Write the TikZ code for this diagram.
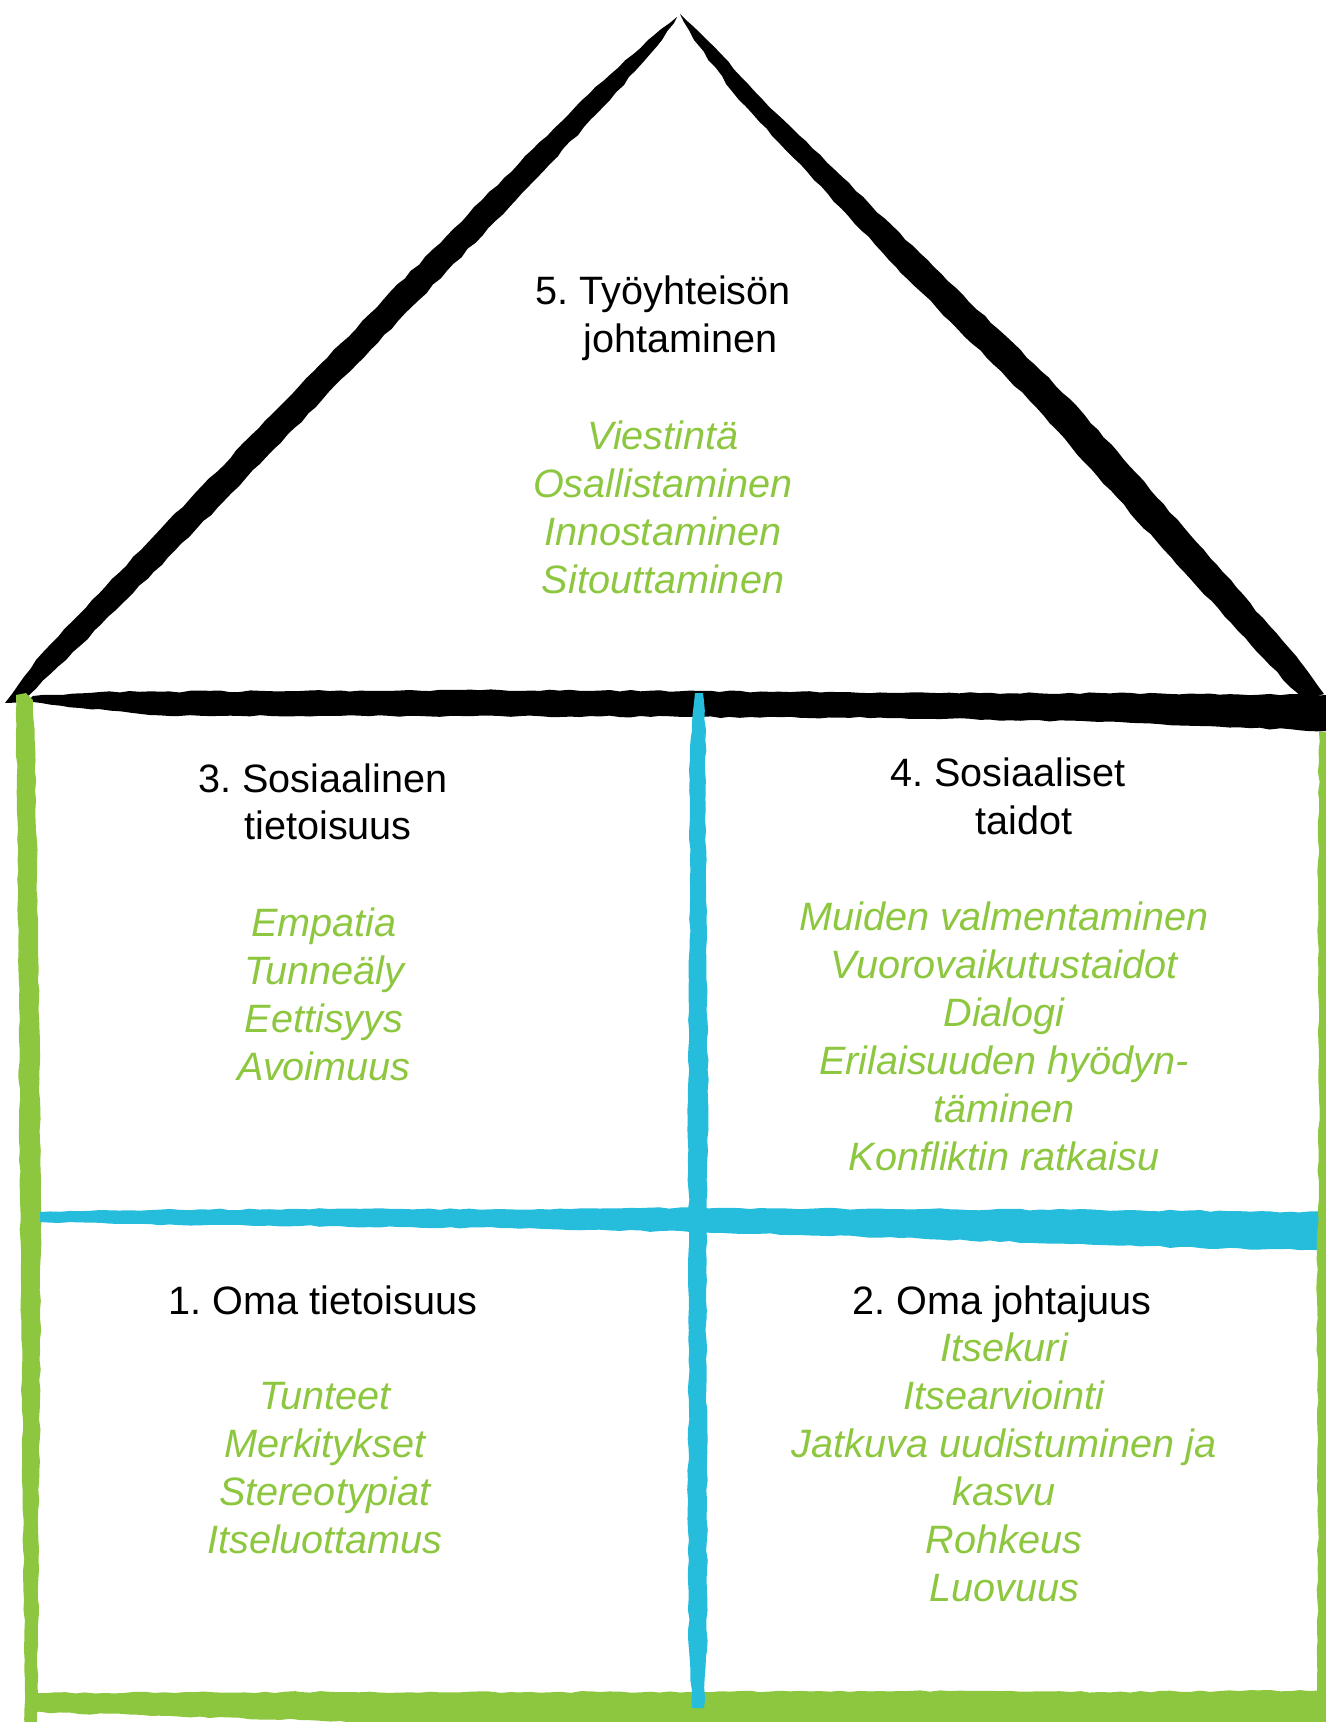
\documentclass[tikz,border=0pt]{standalone}
\usepackage{fontspec}
\setmainfont{Liberation Sans}
\usetikzlibrary{decorations.pathmorphing}
\definecolor{leafgreen}{RGB}{141,198,63}
\definecolor{skyblue}{RGB}{38,188,219}
\frenchspacing
\begin{document}
\begin{tikzpicture}[x=0.5pt,y=-0.5pt,
  brush/.style={decorate,decoration={random steps,segment length=5pt,amplitude=0.45pt}},
  heading/.style={font=\fontsize{19.8}{24}\selectfont, inner sep=0pt},
  item/.style={font=\fontsize{19.8}{24}\selectfont\itshape, text=leafgreen, inner sep=0pt}]
\useasboundingbox (0,0) rectangle (1326,1722);
\clip (0,0) rectangle (1326,1722);
\pgfmathsetseed{7}

% roof: left and right brush strokes
\fill[black,brush] (677,17) -- (648,40) -- (582,100) -- (482,200) -- (383,300)
  -- (286,400) -- (189,500) -- (92,600) -- (36,660) -- (5,703) -- (22,701)
  -- (66,660) -- (126,600) -- (225,500) -- (322,400) -- (419,300) -- (516,200)
  -- (610,100) -- (662,40) -- cycle;
\fill[black,brush] (680,14) -- (707,40) -- (763,100) -- (934,267) -- (1071,400)
  -- (1204,550) -- (1299,660) -- (1324,694) -- (1304,701) -- (1265,660)
  -- (1164,550) -- (1029,400) -- (896,267) -- (739,100) -- (694,40) -- cycle;

% floor of the roof
\fill[black,brush] (33,696) -- (100,692) -- (300,691) -- (500,690) -- (700,691)
  -- (900,693) -- (1100,693) -- (1200,694) -- (1330,695) -- (1330,731)
  -- (1200,726) -- (1120,722) -- (900,718) -- (700,717) -- (500,716)
  -- (300,716) -- (150,715) -- (80,708) -- (33,702) -- cycle;

% green outer walls and ground
\fill[leafgreen,brush] (16,695) -- (17,800) -- (19,1000) -- (20,1200) -- (22,1400)
  -- (24,1600) -- (25,1725) -- (37,1725) -- (38,1600) -- (40,1400) -- (41,1200)
  -- (39,1000) -- (36,800) -- (33,700) -- (26,693) -- cycle;
\fill[leafgreen,brush] (35,1693) -- (300,1692) -- (600,1692) -- (900,1691)
  -- (1100,1692) -- (1330,1690) -- (1330,1730) -- (600,1730) -- (300,1720)
  -- (35,1712) -- cycle;

% blue inner cross
\fill[skyblue,brush] (40,1212) -- (100,1210) -- (300,1209) -- (500,1209)
  -- (700,1208) -- (900,1209) -- (1100,1210) -- (1330,1212) -- (1330,1250)
  -- (1200,1248) -- (1100,1245) -- (900,1238) -- (700,1232) -- (500,1228)
  -- (300,1226) -- (120,1224) -- (40,1222) -- cycle;
\fill[skyblue,brush] (695,693) -- (692,730) -- (689,770) -- (690,900) -- (688,1100)
  -- (689,1300) -- (688,1500) -- (689,1650) -- (692,1708) -- (704,1708)
  -- (707,1650) -- (707,1500) -- (706,1300) -- (708,1100) -- (706,900)
  -- (705,770) -- (706,730) -- (703,693) -- cycle;

% right wall
\fill[leafgreen,brush] (1319,732) -- (1318,900) -- (1319,1100) -- (1317,1300)
  -- (1318,1500) -- (1317,1700) -- (1330,1700) -- (1330,732) -- cycle;

% 5. roof
\node[heading,anchor=base west] (h5a) at (535,305) {5. Työyhteisön};
\node[heading,anchor=base west] (h5b) at (583,352) {johtaminen};
\node[item,anchor=base] (i5a) at (663,449) {Viestintä};
\node[item,anchor=base] (i5b) at (663,497) {Osallistaminen};
\node[item,anchor=base] (i5c) at (663,545) {Innostaminen};
\node[item,anchor=base] (i5d) at (663,593) {Sitouttaminen};

% 3. upper left room
\node[heading,anchor=base west] (h3a) at (198,792) {3. Sosiaalinen};
\node[heading,anchor=base west] (h3b) at (244,839) {tietoisuus};
\node[item,anchor=base] (i3a) at (324,936) {Empatia};
\node[item,anchor=base] (i3b) at (324,984) {Tunneäly};
\node[item,anchor=base] (i3c) at (324,1032) {Eettisyys};
\node[item,anchor=base] (i3d) at (324,1080) {Avoimuus};

% 4. upper right room
\node[heading,anchor=base] (h4a) at (1008,786) {4. Sosiaaliset};
\node[heading,anchor=base] (h4b) at (1024,834) {taidot};
\node[item,anchor=base] (i4a) at (1004,930) {Muiden valmentaminen};
\node[item,anchor=base] (i4b) at (1004,978) {Vuorovaikutustaidot};
\node[item,anchor=base] (i4c) at (1004,1026) {Dialogi};
\node[item,anchor=base] (i4d) at (1004,1074) {Erilaisuuden hyödyn-};
\node[item,anchor=base] (i4e) at (1004,1122) {täminen};
\node[item,anchor=base] (i4f) at (1004,1170) {Konfliktin ratkaisu};

% 1. lower left room
\node[heading,anchor=base] (h1) at (323,1314) {1. Oma tietoisuus};
\node[item,anchor=base] (i1a) at (325,1409) {Tunteet};
\node[item,anchor=base] (i1b) at (325,1457) {Merkitykset};
\node[item,anchor=base] (i1c) at (325,1505) {Stereotypiat};
\node[item,anchor=base] (i1d) at (325,1553) {Itseluottamus};

% 2. lower right room
\node[heading,anchor=base] (h2) at (1002,1314) {2. Oma johtajuus};
\node[item,anchor=base] (i2a) at (1004,1361) {Itsekuri};
\node[item,anchor=base] (i2b) at (1004,1409) {Itsearviointi};
\node[item,anchor=base] (i2c) at (1004,1457) {Jatkuva uudistuminen ja};
\node[item,anchor=base] (i2d) at (1004,1505) {kasvu};
\node[item,anchor=base] (i2e) at (1004,1553) {Rohkeus};
\node[item,anchor=base] (i2f) at (1004,1601) {Luovuus};
\end{tikzpicture}
\end{document}
